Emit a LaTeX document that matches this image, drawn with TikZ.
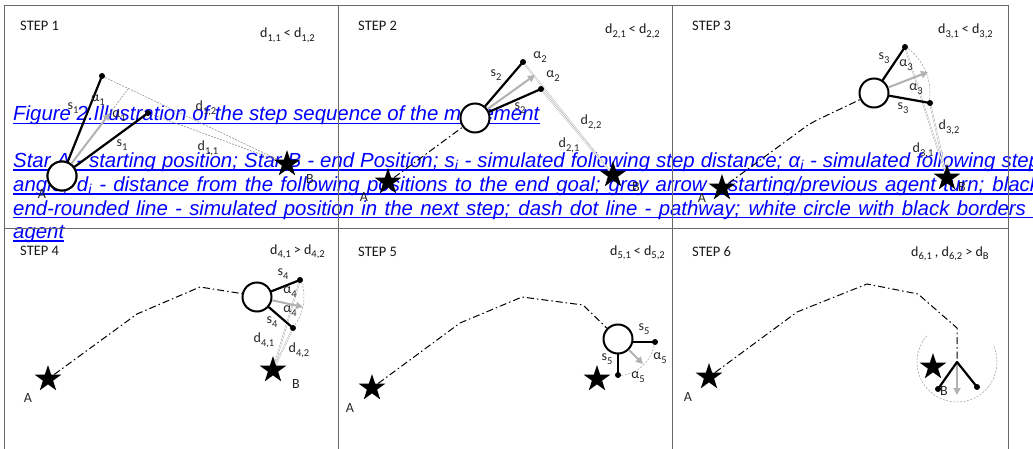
\documentclass[tikz,border=0pt]{standalone}
\usepackage{fontspec}
\setmainfont{Carlito}
\newfontfamily\capfont{Liberation Sans}
\usetikzlibrary{shapes.geometric,arrows.meta}
\definecolor{capblue}{RGB}{0,0,255}
\definecolor{framecol}{RGB}{105,105,105}
\newcommand\sbx[1]{\raisebox{-0.28em}{\fontsize{10.5}{10.5}\selectfont #1}}
\tikzset{
  lab/.style={font=\fontsize{14}{16}\selectfont, inner sep=0, text=black!85},
  steptitle/.style={font=\fontsize{14.5}{16}\selectfont, anchor=base west, inner sep=0, text=black!90},
  cmp/.style={font=\fontsize{14}{16}\selectfont, anchor=base west, inner sep=0, text=black!90},
  agent/.style={circle, draw=black, fill=white, line width=2pt, minimum size=29pt, inner sep=0},
  goal/.style={star, star points=5, star point ratio=2.618, fill=black, minimum size=28pt, inner sep=0},
  stepline/.style={line width=2.2pt, line cap=round},
  turn/.style={gray!60, line width=2pt, -{Triangle[length=7pt,width=7pt]}},
  distd/.style={gray, line width=0.5pt, dash pattern=on 2pt off 1.2pt},
  dist/.style={gray!80, line width=0.3pt, double=white, double distance=0.8pt},
  arcline/.style={gray!80, line width=0.5pt, dash pattern=on 2pt off 1.5pt},
  pathway/.style={line width=1pt, dash pattern=on 7pt off 3pt on 1.5pt off 3pt},
  gridl/.style={framecol, line width=0.9pt},
  capline/.style={font=\capfont\itshape\fontsize{20.4}{23.5}\selectfont, text=capblue, inner sep=0, anchor=base west},
  uline/.style={capblue, line width=1.6pt}
}
\begin{document}
\begin{tikzpicture}[x=1pt,y=-1pt]
\useasboundingbox (0,0) rectangle (1033,449);
\clip (0,0) rectangle (1033,449);
\fill[white] (0,0) rectangle (1033,449);

% ---------- caption text (underneath the panels' drawings)
\node[capline] (f1) at (13,121) {Figure 2.Illustration of the step sequence of the movement};
\draw[uline] ([yshift=-2.6pt]f1.base west) -- ([yshift=-2.6pt]f1.base east);
\node[capline] (p1) at (13,167.5) {\makebox[1027pt][s]{Star A - starting position; Star B - end Position; s\textsubscript{i} - simulated following step distance; α\textsubscript{i} - simulated following step}};
\node[capline] (p2) at (13,191.5) {\makebox[1027pt][s]{angle; d\textsubscript{i} - distance from the following positions to the end goal; grey arrow - starting/previous agent turn; black}};
\node[capline] (p3) at (13,215) {\makebox[1027pt][s]{end-rounded line - simulated position in the next step; dash dot line - pathway; white circle with black borders -}};
\node[capline] (p4) at (13,238.5) {agent};
\foreach \p in {p1,p2,p3} \draw[uline] ([yshift=-2.6pt]\p.base west) -- ([yshift=-2.6pt]\p.base east);
\draw[uline] ([yshift=-2.6pt]p4.base west) -- ([yshift=-2.6pt]p4.base east);

% ---------- grid
\draw[gridl] (4,449) -- (4,5) -- (1008,5) -- (1008,449);
\draw[gridl] (338,5) -- (338,449);
\draw[gridl] (672,5) -- (672,449);
\draw[gridl] (4,228) -- (1008,228);

% ---------- titles
\node[steptitle] (t1) at (20,31) {STEP 1};
\node[steptitle] (t2) at (358,31) {STEP 2};
\node[steptitle] (t3) at (692,31) {STEP 3};
\node[steptitle] (t4) at (20,255.5) {STEP 4};
\node[steptitle] (t5) at (358,256) {STEP 5};
\node[steptitle] (t6) at (692,256) {STEP 6};
\node[cmp] (c1) at (260,38) {d\sbx{1,1} < d\sbx{1,2}};
\node[cmp] (c2) at (605,34) {d\sbx{2,1} < d\sbx{2,2}};
\node[cmp] (c3) at (938,34) {d\sbx{3,1} < d\sbx{3,2}};
\node[cmp] (c4) at (270,254) {d\sbx{4,1} > d\sbx{4,2}};
\node[cmp] (c5) at (610,255) {d\sbx{5,1} < d\sbx{5,2}};
\node[cmp] (c6) at (911,256) {d\sbx{6,1} , d\sbx{6,2} > d\sbx{B}};

% ================= STEP 1
\node[agent] (C1) at (62,176) {};
\node[goal] (B1) at (287,164) {};
\coordinate (T1) at (102,76);
\coordinate (L1) at (148,113);
\coordinate (G1) at (110,113);
\coordinate (X1) at (128,89);
\draw[distd] (T1) -- (B1);
\draw[distd] (L1) -- (B1);
\draw[distd] (G1) -- (X1);
\draw[turn] (C1) -- (G1);
\draw[stepline] (C1) -- (T1);
\draw[stepline] (C1) -- (L1);
\fill (T1) circle (3pt) (L1) circle (3pt);
\node[agent] at (C1) {};
\node[lab] (s1a) at (73,108) {s\sbx{1}};
\node[lab] (a1a) at (98,100) {α\sbx{1}};
\node[lab] (a1b) at (119,116) {α\sbx{1}};
\node[lab] (d12) at (206,108) {d\sbx{1,2}};
\node[lab] (s1b) at (122,145) {s\sbx{1}};
\node[lab] (d11) at (208,148) {d\sbx{1,1}};
\node[lab] (B1l) at (310,179) {B};
\node[lab] (A1l) at (42,194) {A};

% ================= STEP 2
\node[goal] (A2) at (388,182) {};
\node[goal] (B2) at (613,175) {};
\node[agent] (C2) at (475,118) {};
\coordinate (T2) at (523,62);
\coordinate (L2) at (541,89);
\coordinate (G2) at (535,75);
\draw[pathway] (A2) -- (C2);
\draw[dist] (T2) -- (B2);
\draw[dist] (L2) -- (B2);
\draw[turn] (C2) -- (G2);
\draw[stepline] (C2) -- (T2);
\draw[stepline] (C2) -- (L2);
\fill (T2) circle (3pt) (L2) circle (3pt);
\node[lab] (a2a) at (540,57) {α\sbx{2}};
\node[lab] (a2b) at (553,76) {α\sbx{2}};
\node[lab] (s2a) at (496,75) {s\sbx{2}};
\node[lab] (s2b) at (520,108) {s\sbx{2}};
\node[lab] (d22) at (591,122) {d\sbx{2,2}};
\node[lab] (d21) at (569,145) {d\sbx{2,1}};
\node[lab] (B2l) at (636,187) {B};
\node[lab] (A2l) at (364,197) {A};

% ================= STEP 3
\node[goal] (A3) at (722,188) {};
\node[goal] (B3) at (947,178) {};
\node[agent] (C3) at (874,93) {};
\coordinate (T3) at (905,47);
\coordinate (L3) at (930,103);
\coordinate (G3) at (928,72);
\draw[pathway] (A3) -- (808,125) -- (817,120) -- (C3);
\draw[arcline] ([shift={(56:56pt)}]C3.center) arc[start angle=56, end angle=-10, radius=56pt];
\draw[dist] (T3) -- (B3);
\draw[dist] (L3) -- (B3);
\draw[turn] (C3) -- (G3);
\draw[stepline] (C3) -- (T3);
\draw[stepline] (C3) -- (L3);
\fill (T3) circle (3pt) (L3) circle (3pt);
\node[lab] (s3a) at (884,58) {s\sbx{3}};
\node[lab] (a3a) at (906,65) {α\sbx{3}};
\node[lab] (a3b) at (916,89) {α\sbx{3}};
\node[lab] (s3b) at (903,108) {s\sbx{3}};
\node[lab] (d32) at (949,127) {d\sbx{3,2}};
\node[lab] (d31) at (923,150) {d\sbx{3,1}};
\node[lab] (B3l) at (962,187) {B};
\node[lab] (A3l) at (702,198) {A};

% ================= STEP 4
\node[goal] (A4) at (48,379) {};
\node[goal] (B4) at (273,370) {};
\node[agent] (C4) at (257,297) {};
\coordinate (T4) at (300,280);
\coordinate (L4) at (293,328);
\coordinate (G4) at (303,307);
\draw[pathway] (A4) -- (137,314) -- (200,287) -- (238,293) -- (C4);
\draw[arcline] ([shift={(22:47pt)}]C4.center) arc[start angle=22, end angle=-41, radius=47pt];
\draw[dist] (T4) -- (B4);
\draw[dist] (L4) -- (B4);
\draw[turn] (C4) -- (G4);
\draw[stepline] (C4) -- (T4);
\draw[stepline] (C4) -- (L4);
\fill (T4) circle (3pt) (L4) circle (3pt);
\node[lab] (s4a) at (283,274) {s\sbx{4}};
\node[lab] (a4a) at (290,292) {α\sbx{4}};
\node[lab] (a4b) at (290,311) {α\sbx{4}};
\node[lab] (s4b) at (272,322) {s\sbx{4}};
\node[lab] (d41) at (264,340) {d\sbx{4,1}};
\node[lab] (d42) at (299,350) {d\sbx{4,2}};
\node[lab] (B4l) at (296,384) {B};
\node[lab] (A4l) at (28,398) {A};

% ================= STEP 5
\node[goal] (A5) at (372,388) {};
\node[goal] (S5) at (597,379) {};
\node[agent] (C5) at (618,339) {};
\coordinate (R5) at (655,342);
\coordinate (D5) at (618,375);
\coordinate (G5) at (643,364);
\draw[pathway] (A5) -- (460,323) -- (522,297) -- (583,305) -- (C5);
\draw[arcline] ([shift={(-5:36.5pt)}]C5.center) arc[start angle=-5, end angle=-90, radius=36.5pt];
\draw[turn] (C5) -- (G5);
\draw[stepline] (C5.east |- R5) -- (R5);
\draw[stepline] (C5) -- (D5);
\fill (R5) circle (3pt) (D5) circle (3pt);
\node[lab] (s5a) at (644,329) {s\sbx{5}};
\node[lab] (a5a) at (660,358) {α\sbx{5}};
\node[lab] (s5b) at (607,359) {s\sbx{5}};
\node[lab] (a5b) at (638,377) {α\sbx{5}};
\node[lab] (A5l) at (350,408) {A};

% ================= STEP 6
\node[goal] (A6) at (709,377) {};
\node[goal] (B6) at (933,367) {};
\coordinate (P6) at (957,362);
\coordinate (Q6a) at (938,389);
\coordinate (Q6b) at (977,387);
\coordinate (G6) at (957,395);
\draw[pathway] (A6) -- (797,312) -- (867,284) -- (918,294) -- (957,328) -- (P6);
\draw[arcline] ([shift={(139:40pt)}]P6) arc[start angle=139, end angle=385, radius=40pt];
\draw[turn] (P6) -- (G6);
\draw[stepline] (P6) -- (Q6a);
\draw[stepline] (P6) -- (Q6b);
\fill (Q6a) circle (3pt) (Q6b) circle (3pt);
\node[lab] (B6l) at (944,391) {B};
\node[lab] (A6l) at (688,397) {A};
\end{tikzpicture}
\end{document}
